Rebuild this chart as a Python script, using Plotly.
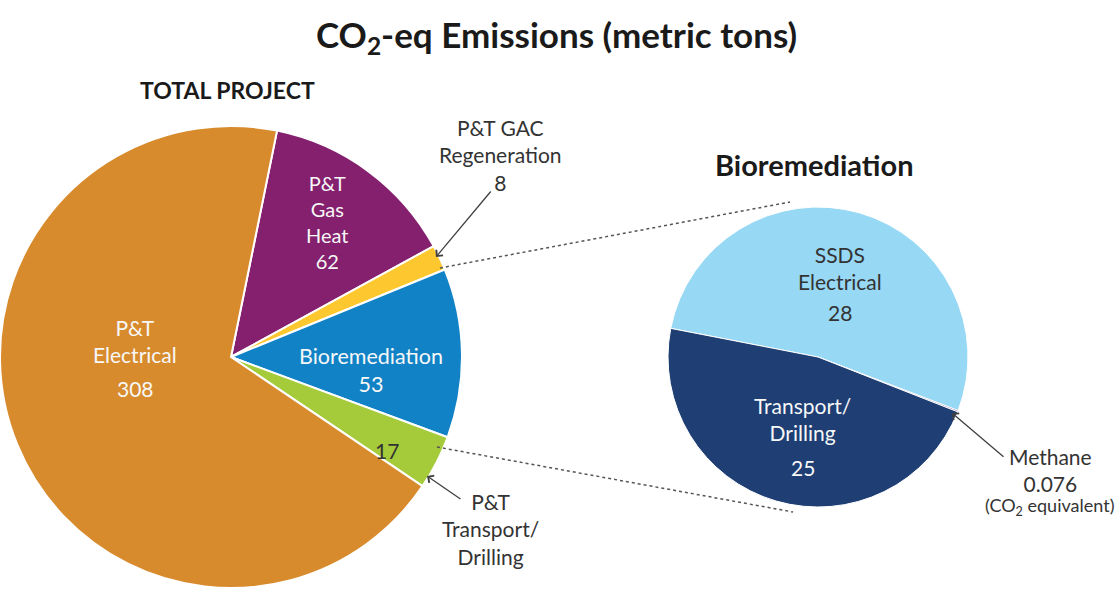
import plotly.graph_objects as go

# ---- data ----
total_labels = ["P&T Gas Heat", "P&T GAC Regeneration", "Bioremediation",
                "P&T Transport/Drilling", "P&T Electrical"]
total_values = [62, 8, 53, 17, 308]
total_colors = ["#84206E", "#FCC72F", "#1282C6", "#A5CB3A", "#D88B2D"]

bio_labels = ["SSDS Electrical", "Methane", "Transport/Drilling"]
bio_values = [28, 0.076, 25]
bio_colors = ["#97D8F5", "#6A4C93", "#1E3E74"]

title_text = "CO<sub>2</sub>-eq Emissions (metric tons)"
left_title = "TOTAL PROJECT"
right_title = "Bioremediation"
methane_note = "(CO<sub>2</sub> equivalent)"

W, H = 1120, 597
FONT = "Lato, 'Open Sans', sans-serif"
DARK = "#333333"
WHITE = "#F7F7F7"


def px(x):
    return x / W


def py(y):
    return 1 - y / H


fig = go.Figure()

fig.add_trace(go.Pie(
    labels=total_labels, values=total_values, sort=False, direction="clockwise",
    rotation=11.5, marker=dict(colors=total_colors, line=dict(color="white", width=2)),
    textinfo="none", hoverinfo="label+value", showlegend=False,
    domain=dict(x=[px(0), px(462)], y=[py(591), py(123)]),
))

fig.add_trace(go.Pie(
    labels=bio_labels, values=bio_values, sort=False, direction="clockwise",
    rotation=281, marker=dict(colors=bio_colors, line=dict(color="white", width=1)),
    textinfo="none", hoverinfo="label+value", showlegend=False,
    domain=dict(x=[px(668), px(968)], y=[py(507), py(207)]),
))

v = {l: val for l, val in zip(total_labels, total_values)}
b = {l: val for l, val in zip(bio_labels, bio_values)}
fmt = lambda n: f"{n:g}"

annotations = []


def label(text, x, y, size, color, bold=False):
    annotations.append(dict(
        x=px(x), y=py(y), text=f"<b>{text}</b>" if bold else text,
        font=dict(size=size, color=color, family=FONT),
        xref="paper", yref="paper", showarrow=False,
        xanchor="center", yanchor="middle",
    ))


label(title_text, 556, 36, 35, "#1a1a1a", bold=True)
label(left_title, 227, 90, 23, "#1a1a1a", bold=True)
label(right_title, 814, 165, 29, "#1a1a1a", bold=True)

# total pie: inside labels
label(f"P&T<br>Gas<br>Heat<br>{fmt(v['P&T Gas Heat'])}", 327, 222, 20, WHITE)
label("P&T<br>Electrical", 135, 341, 21, WHITE)
label(fmt(v["P&T Electrical"]), 135, 388, 21, WHITE)
label(f"Bioremediation<br>{fmt(v['Bioremediation'])}", 371, 370, 21.5, WHITE)
label(fmt(v["P&T Transport/Drilling"]), 387, 450, 21, DARK)

# total pie: outside labels
label(f"P&T GAC<br>Regeneration<br>{fmt(v['P&T GAC Regeneration'])}", 500, 155, 21, DARK)
label("P&T<br>Transport/<br>Drilling", 490, 529, 21, DARK)

# bio pie labels
label("SSDS<br>Electrical", 840, 268, 21, DARK)
label(fmt(b["SSDS Electrical"]), 840, 312, 21, DARK)
label("Transport/<br>Drilling", 802, 419, 21, WHITE)
label(fmt(b["Transport/Drilling"]), 803, 467, 21, WHITE)
label(f"Methane<br>{fmt(b['Methane'])}", 1050, 470, 21, DARK)
label(methane_note, 1049, 506, 18, DARK)

# arrows (tail pixel -> head pixel)
arrows = [((492, 190), (436, 257)), ((462, 500), (427, 476)), ((1005, 458), (952, 413))]
for (x0, y0), (x1, y1) in arrows:
    annotations.append(dict(
        x=px(x1), y=py(y1), ax=x0 - x1, ay=y0 - y1, xref="paper", yref="paper",
        axref="pixel", ayref="pixel", text="", showarrow=True, arrowhead=4,
        arrowsize=1.3, arrowwidth=1.3, arrowcolor="#404040", standoff=0,
    ))

shapes = [
    dict(type="line", xref="paper", yref="paper", x0=px(440), y0=py(268), x1=px(790), y1=py(202),
         line=dict(color="#555555", width=1.5, dash="dot")),
    dict(type="line", xref="paper", yref="paper", x0=px(437), y0=py(447), x1=px(793), y1=py(512),
         line=dict(color="#555555", width=1.5, dash="dot")),
]

fig.update_layout(
    width=W, height=H, margin=dict(l=0, r=0, t=0, b=0),
    paper_bgcolor="white", plot_bgcolor="white",
    annotations=annotations, shapes=shapes, showlegend=False,
    font=dict(family=FONT),
)

fig.write_html(
    "out.html",
    config={"displayModeBar": False},
    post_script="document.body.style.margin='0px';document.body.style.overflow='hidden';",
)
